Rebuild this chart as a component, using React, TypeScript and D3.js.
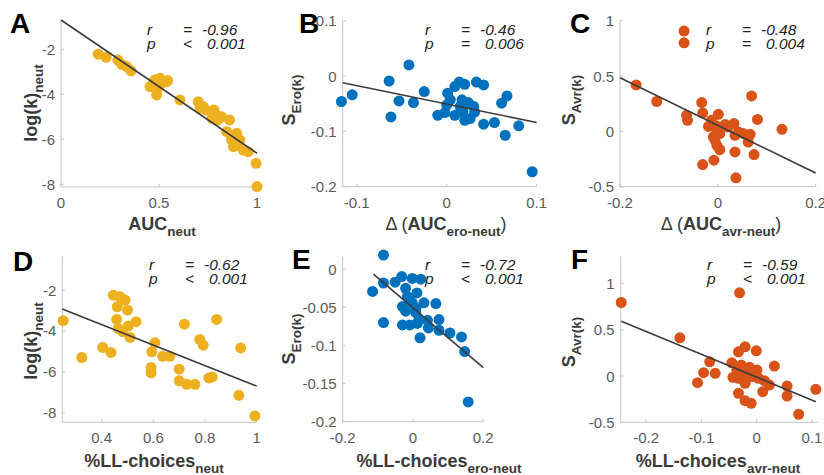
import React from "react";
import * as d3 from "d3";

// ---------- DATA ----------
// Panel A: AUC_neut vs log(k)_neut
const aX = [0.19, 0.23, 0.29, 0.31, 0.335, 0.357, 0.474, 0.5, 0.52, 0.544, 0.488, 0.454, 0.48, 0.505, 0.54, 0.607, 0.7, 0.71, 0.726, 0.74, 0.78, 0.79, 0.77, 0.8, 0.82, 0.86, 0.845, 0.896, 0.87, 0.913, 0.88, 0.905, 0.93, 0.955, 0.995, 1.0];
const aY = [-2.22, -2.36, -2.48, -2.67, -2.77, -2.96, -3.44, -3.66, -3.47, -3.39, -4.03, -3.66, -3.36, -3.29, -3.44, -4.25, -4.33, -4.62, -4.55, -4.7, -4.7, -4.92, -5.07, -5.14, -5.0, -5.14, -5.66, -5.73, -6.03, -6.03, -6.33, -6.25, -6.48, -6.55, -7.07, -8.1];
const aFit = [[0, -0.7], [1, -6.62]];

// Panel B: delta AUC (ero-neut) vs S_Ero(k)
const bX = [-0.117, -0.105, -0.064, -0.042, -0.053, -0.062, -0.037, -0.025, -0.01, -0.002, 0.001, 0.004, 0.009, 0.014, 0.02, 0.033, 0.041, 0.017, 0.024, 0.009, 0.02, 0.026, 0.031, 0.03, 0.041, 0.053, 0.061, 0.067, 0.065, 0.08, 0.095, 0.015, 0.0, 0.018];
const bY = [-0.046, -0.034, -0.009, 0.02, -0.045, -0.074, -0.048, -0.028, -0.071, -0.066, -0.031, -0.043, -0.019, -0.011, -0.015, -0.011, -0.016, -0.043, -0.048, -0.071, -0.08, -0.077, -0.065, -0.055, -0.087, -0.084, -0.049, -0.036, -0.107, -0.09, -0.173, -0.055, -0.052, -0.065];
const bFit = [[-0.1156, -0.012], [0.1, -0.084]];

// Panel C: delta AUC (avr-neut) vs S_Avr(k)
const cX = [-0.167, -0.125, -0.064, -0.062, -0.033, -0.031, 0.001, -0.013, -0.019, -0.002, 0.015, 0.033, -0.002, 0.004, -0.006, -0.002, 0.004, 0.035, 0.052, 0.066, 0.062, 0.035, 0.074, 0.069, 0.081, 0.131, -0.031, -0.008, 0.037, 0.021, -0.009, 0.042];
const cY = [0.42, 0.27, 0.145, 0.1, 0.26, 0.165, 0.154, 0.1, 0.045, 0.048, 0.063, 0.07, -0.006, -0.02, -0.08, -0.126, -0.165, -0.036, -0.02, -0.027, -0.096, -0.186, -0.21, 0.32, 0.108, 0.018, -0.3, -0.26, -0.42, 0.039, -0.05, -0.006];
const cLegendX = [-0.069, -0.069];
const cLegendY = [0.906, 0.8];
const cFit = [[-0.2, 0.485], [0.2, -0.377]];

// Panel D: %LL-choices_neut vs log(k)_neut
const dX = [0.251, 0.323, 0.404, 0.436, 0.445, 0.471, 0.49, 0.46, 0.5, 0.458, 0.533, 0.503, 0.464, 0.481, 0.51, 0.606, 0.594, 0.636, 0.664, 0.591, 0.591, 0.7, 0.7, 0.729, 0.761, 0.72, 0.78, 0.793, 0.815, 0.828, 0.845, 0.938, 0.931, 0.993];
const dY = [-3.5, -5.3, -4.81, -5.05, -2.25, -2.33, -2.49, -2.82, -2.98, -3.44, -3.55, -3.76, -3.88, -4.04, -4.32, -4.58, -5.02, -5.24, -5.24, -5.79, -6.05, -5.87, -6.44, -6.61, -6.61, -3.67, -4.42, -4.7, -6.3, -6.25, -3.44, -4.83, -7.15, -8.16];
const dFit = [[0.2475, -2.93], [1, -6.7]];

// Panel E: %LL-choices_ero-neut vs S_Ero(k)
const eX = [-0.084, -0.084, -0.115, -0.084, -0.051, -0.032, -0.002, 0.022, -0.021, 0.011, -0.016, -0.03, -0.021, -0.002, 0.031, 0.065, 0.008, 0.017, 0.041, 0.074, -0.03, -0.009, 0.012, 0.044, 0.074, 0.02, 0.105, 0.138, 0.147, 0.157, -0.011, 0.008];
const eY = [0.0187, -0.018, -0.029, -0.07, -0.017, -0.0096, -0.012, -0.013, -0.025, -0.031, -0.036, -0.049, -0.055, -0.044, -0.044, -0.045, -0.057, -0.066, -0.067, -0.066, -0.073, -0.073, -0.071, -0.077, -0.08, -0.09, -0.0836, -0.0888, -0.108, -0.174, -0.038, -0.051];
const eFit = [[-0.1127, -0.0065], [0.2, -0.129]];

// Panel F: %LL-choices_avr-neut vs S_Avr(k)
const fX = [-0.245, -0.139, -0.031, -0.107, -0.096, -0.085, -0.075, -0.045, -0.043, -0.033, -0.021, -0.028, -0.036, -0.033, -0.021, -0.033, -0.021, -0.01, -0.013, 0.0005, -0.0007, -0.0085, 0.0035, 0.014, 0.023, 0.011, 0.032, 0.055, 0.055, 0.076, 0.107, -0.019];
const fY = [0.795, 0.413, 0.9, -0.072, 0.036, 0.154, 0.029, 0.143, -0.014, 0.262, 0.316, 0.119, 0.065, -0.025, -0.079, -0.187, -0.266, -0.295, 0.094, 0.065, 0.273, -0.007, -0.025, -0.05, -0.097, -0.169, 0.108, -0.108, -0.216, -0.413, -0.143, 0.029];
const fFit = [[-0.245, 0.593], [0.107, -0.277]];

const panelLetters = ["A", "B", "C", "D", "E", "F"];
const rValues = ["-0.96", "-0.46", "-0.48", "-0.62", "-0.72", "-0.59"];
const pOps = ["<", "=", "=", "<", "<", "<"];
const pValues = ["0.001", "0.006", "0.004", "0.001", "0.001", "0.001"];

const xTicksA = [0, 0.5, 1];
const yTicksA = [-8, -6, -4, -2];
const xTicksB = [-0.1, 0, 0.1];
const yTicksB = [-0.2, -0.1, 0, 0.1];
const xTicksC = [-0.2, 0, 0.2];
const yTicksC = [-0.5, 0, 0.5, 1];
const xTicksD = [0.4, 0.6, 0.8, 1];
const yTicksD = [-8, -6, -4, -2];
const xTicksE = [-0.2, 0, 0.2];
const yTicksE = [-0.2, -0.15, -0.1, -0.05, 0];
const xTicksF = [-0.2, -0.1, 0, 0.1];
const yTicksF = [-0.5, 0, 0.5, 1];

const YELLOW = "#EDB120";
const BLUE = "#0072BD";
const ORANGE = "#D95319";

const FONT = "'Liberation Sans', Arial, Helvetica, sans-serif";

type Label = { pre?: string; main: string; sub: string; post?: string };

type Panel = {
  xs: number[];
  ys: number[];
  extraX?: number[];
  extraY?: number[];
  fit: number[][];
  xDomain: [number, number];
  yDomain: [number, number];
  px: [number, number];
  py: [number, number];
  xTicks: number[];
  yTicks: number[];
  color: string;
  xLabel: Label;
  yLabel: Label;
  xLabelX: number;
  xLabelY: number;
  yLabelX: number;
  yLabelY: number;
  letterX: number;
  letterY: number;
  statX: number;
  statY: number;
};

const panels: Panel[] = [
  {
    xs: aX, ys: aY, fit: aFit,
    xDomain: [0, 1], yDomain: [-8.12, -0.7],
    px: [61, 257], py: [187, 20],
    xTicks: xTicksA, yTicks: yTicksA, color: YELLOW,
    xLabel: { main: "AUC", sub: "neut" },
    yLabel: { main: "log(k)", sub: "neut" },
    xLabelX: 162, xLabelY: 230, yLabelX: 37, yLabelY: 103,
    letterX: 10, letterY: 33, statX: 147, statY: 35,
  },
  {
    xs: bX, ys: bY, fit: bFit,
    xDomain: [-0.1156, 0.1], yDomain: [-0.2, 0.1],
    px: [342.7, 536.7], py: [186.7, 20.7],
    xTicks: xTicksB, yTicks: yTicksB, color: BLUE,
    xLabel: { pre: "Δ (", main: "AUC", sub: "ero-neut", post: ")" },
    yLabel: { main: "S", sub: "Ero(k)" },
    xLabelX: 446, xLabelY: 230, yLabelX: 295, yLabelY: 100,
    letterX: 299, letterY: 33, statX: 425, statY: 35,
  },
  {
    xs: cX, ys: cY, extraX: cLegendX, extraY: cLegendY, fit: cFit,
    xDomain: [-0.2, 0.2], yDomain: [-0.5, 1],
    px: [620, 815.7], py: [186.7, 20.7],
    xTicks: xTicksC, yTicks: yTicksC, color: ORANGE,
    xLabel: { pre: "Δ (", main: "AUC", sub: "avr-neut", post: ")" },
    yLabel: { main: "S", sub: "Avr(k)" },
    xLabelX: 721, xLabelY: 230, yLabelX: 575, yLabelY: 100,
    letterX: 570, letterY: 33, statX: 706, statY: 35,
  },
  {
    xs: dX, ys: dY, fit: dFit,
    xDomain: [0.2475, 1], yDomain: [-8.47, -0.37],
    px: [62.3, 256.7], py: [422.3, 256.7],
    xTicks: xTicksD, yTicks: yTicksD, color: YELLOW,
    xLabel: { main: "%LL-choices", sub: "neut" },
    yLabel: { main: "log(k)", sub: "neut" },
    xLabelX: 154, xLabelY: 467, yLabelX: 37, yLabelY: 341,
    letterX: 13, letterY: 271, statX: 149, statY: 270,
  },
  {
    xs: eX, ys: eY, fit: eFit,
    xDomain: [-0.2, 0.2], yDomain: [-0.2, 0.0165],
    px: [342.7, 483.3], py: [421.7, 256.7],
    xTicks: xTicksE, yTicks: yTicksE, color: BLUE,
    xLabel: { main: "%LL-choices", sub: "ero-neut" },
    yLabel: { main: "S", sub: "Ero(k)" },
    xLabelX: 439, xLabelY: 467, yLabelX: 295, yLabelY: 339,
    letterX: 292, letterY: 269, statX: 425, statY: 270,
  },
  {
    xs: fX, ys: fY, fit: fFit,
    xDomain: [-0.246, 0.11], yDomain: [-0.5, 1.29],
    px: [620.7, 817.5], py: [422.3, 256.7],
    xTicks: xTicksF, yTicks: yTicksF, color: ORANGE,
    xLabel: { main: "%LL-choices", sub: "avr-neut" },
    yLabel: { main: "S", sub: "Avr(k)" },
    xLabelX: 718, xLabelY: 467, yLabelX: 575, yLabelY: 342,
    letterX: 571, letterY: 269, statX: 707, statY: 270,
  },
];

function LabelText({ l, x, y, rotate }: { l: Label; x: number; y: number; rotate?: boolean }) {
  return (
    <text
      x={0}
      y={0}
      transform={rotate ? `translate(${x},${y}) rotate(-90)` : `translate(${x},${y})`}
      textAnchor="middle"
      fontFamily={FONT}
      fontWeight="bold"
      fontSize={18}
      fill="#3a3a3a"
    >
      {l.pre ? <tspan fontWeight="normal">{l.pre}</tspan> : null}
      <tspan>{l.main}</tspan>
      <tspan fontSize={13.5} dy={6}>{l.sub}</tspan>
      {l.post ? <tspan fontWeight="normal" dy={-6}>{l.post}</tspan> : null}
    </text>
  );
}

function PanelView({ p, i }: { p: Panel; i: number }) {
  const x = d3.scaleLinear().domain(p.xDomain).range(p.px);
  const y = d3.scaleLinear().domain(p.yDomain).range(p.py);
  const line = d3
    .line<number[]>()
    .x((d) => x(d[0]))
    .y((d) => y(d[1]));
  const axisColor = "#c4c4c4";
  const tickColor = "#5a5a5a";
  const x0 = p.px[0];
  const y0 = p.py[0];
  return (
    <g>
      <line x1={x0} x2={x0} y1={p.py[0]} y2={p.py[1]} stroke={axisColor} strokeWidth={1} />
      <line x1={p.px[0]} x2={p.px[1]} y1={y0} y2={y0} stroke={axisColor} strokeWidth={1} />
      {p.xTicks.map((t) => (
        <g key={"xt" + t}>
          <line x1={x(t)} x2={x(t)} y1={y0} y2={y0 - 3} stroke={axisColor} />
          <text x={x(t)} y={y0 + 21} textAnchor="middle" fontFamily={FONT} fontSize={15} fill={tickColor}>
            {String(t)}
          </text>
        </g>
      ))}
      {p.yTicks.map((t) => (
        <g key={"yt" + t}>
          <line x1={x0} x2={x0 + 3} y1={y(t)} y2={y(t)} stroke={axisColor} />
          <text x={x0 - 6} y={y(t) + 5.5} textAnchor="end" fontFamily={FONT} fontSize={15} fill={tickColor}>
            {String(t)}
          </text>
        </g>
      ))}
      {p.xs.map((v, k) => (
        <circle key={"pt" + k} cx={x(v)} cy={y(p.ys[k])} r={5.5} fill={p.color} />
      ))}
      {p.extraX
        ? p.extraX.map((v, k) => (
            <circle key={"ex" + k} cx={x(v)} cy={y(p.extraY![k])} r={5.5} fill={p.color} />
          ))
        : null}
      <path d={line(p.fit) || ""} stroke="#3c3c3c" strokeWidth={1.6} fill="none" />
      <g fontFamily={FONT} fontStyle="italic" fontSize={15.5} fill="#222">
        <text y={p.statY}>
          <tspan x={p.statX}>r</tspan>
          <tspan x={p.statX + 36}>=</tspan>
          <tspan x={p.statX + 55}>{rValues[i]}</tspan>
        </text>
        <text y={p.statY + 14}>
          <tspan x={p.statX}>p</tspan>
          <tspan x={p.statX + 36}>{pOps[i]}</tspan>
          <tspan x={p.statX + 60}>{pValues[i]}</tspan>
        </text>
      </g>
      <LabelText l={p.xLabel} x={p.xLabelX} y={p.xLabelY} />
      <LabelText l={p.yLabel} x={p.yLabelX} y={p.yLabelY} rotate />
      <text x={p.letterX} y={p.letterY} fontFamily={FONT} fontWeight="bold" fontSize={28} fill="#000">
        {panelLetters[i]}
      </text>
    </g>
  );
}

export default function App() {
  return (
    <div style={{ position: "absolute", left: 0, top: 0 }}>
      <svg width={824} height={475} viewBox="0 0 824 475" style={{ display: "block", background: "#fff" }}>
        <rect width={824} height={475} fill="#fff" />
        {panels.map((p, i) => (
          <PanelView key={i} p={p} i={i} />
        ))}
      </svg>
    </div>
  );
}
